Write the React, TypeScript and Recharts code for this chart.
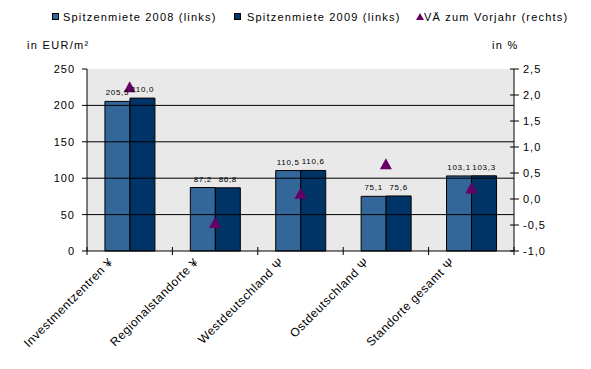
import React from 'react';
import {
  ComposedChart, Bar, Scatter, XAxis, YAxis, CartesianGrid, ReferenceLine, LabelList,
} from 'recharts';

const categories = [
  'Investmentzentren ¥',
  'Regionalstandorte ¥',
  'Westdeutschland Ψ',
  'Ostdeutschland Ψ',
  'Standorte gesamt Ψ',
];
const miete2008 = [205.5, 87.2, 110.5, 75.1, 103.1];
const miete2009 = [210.0, 86.8, 110.6, 75.6, 103.3];
const veraenderung = [2.15, -0.46, 0.1, 0.67, 0.2];
const leftTicks = [0, 50, 100, 150, 200, 250];
const rightTicks = [-1, -0.5, 0, 0.5, 1, 1.5, 2, 2.5];
const gridValues = [50, 100, 150, 200];
const seriesNames = ['Spitzenmiete 2008 (links)', 'Spitzenmiete 2009 (links)', 'VÄ zum Vorjahr (rechts)'];
const leftUnit = 'in EUR/m²';
const rightUnit = 'in %';

const data = categories.map((name, i) => ({
  name,
  m2008: miete2008[i],
  m2009: miete2009[i],
  va: veraenderung[i],
}));

const W = 591;
const H = 369;
const LEFT_W = 87;
const RIGHT_W = 77;
const TOP = 69;
const XAXIS_H = 118;
const PLOT_W = W - LEFT_W - RIGHT_W;
const FONT = '"Liberation Sans", Arial, sans-serif';
const C2008 = '#336699';
const C2009 = '#003366';
const CTRI = '#660066';

const fmt1 = (v: number) => v.toFixed(1).replace('.', ',');

const XTick = (props: any) => {
  const { x, y, payload, index } = props;
  const band = PLOT_W / categories.length;
  const ax = x - 16;
  const ay = y + 12;
  return (
    <g>
      <line x1={x - band / 2} x2={x - band / 2} y1={y - 4} y2={y + 4} stroke="#000" />
      {index === categories.length - 1 && (
        <line x1={x + band / 2} x2={x + band / 2} y1={y - 4} y2={y + 4} stroke="#000" />
      )}
      <text
        x={ax}
        y={ay}
        transform={`rotate(-45, ${ax}, ${ay})`}
        textAnchor="end"
        fontSize={12}
        letterSpacing={0.6}
        fontFamily={FONT}
        fill="#000"
      >
        {payload.value}
      </text>
    </g>
  );
};

const LeftTick = (props: any) => {
  const { x, y, payload } = props;
  return (
    <g>
      <line x1={x - 5} x2={x} y1={y} y2={y} stroke="#000" />
      <text x={x - 12} y={y + 4} textAnchor="end" fontSize={11} letterSpacing={1} fontFamily={FONT} fill="#000">
        {payload.value}
      </text>
    </g>
  );
};

const RightTick = (props: any) => {
  const { x, y, payload } = props;
  return (
    <g>
      <line x1={x - 4} x2={x + 5} y1={y} y2={y} stroke="#000" />
      <text x={x + 9} y={y + 4} textAnchor="start" fontSize={11} letterSpacing={1} fontFamily={FONT} fill="#000">
        {fmt1(payload.value)}
      </text>
    </g>
  );
};

const Triangle = (props: any) => {
  const { cx, cy } = props;
  if (cx == null || cy == null) return null;
  return <polygon points={`${cx},${cy - 6} ${cx + 6},${cy + 5} ${cx - 6},${cy + 5}`} fill={CTRI} />;
};

const Header = () => (
  <svg width={W} height={60} style={{ position: 'absolute', left: 0, top: 0, pointerEvents: 'none' }}>
    <rect x={52.5} y={13.5} width={6} height={6} fill={C2008} stroke="#000" strokeWidth={1} />
    <text x={63} y={21} fontSize={11} letterSpacing={1.2} fontFamily={FONT} fill="#000">{seriesNames[0]}</text>
    <rect x={234.5} y={13.5} width={6} height={6} fill={C2009} stroke="#000" strokeWidth={1} />
    <text x={247} y={21} fontSize={11} letterSpacing={1.2} fontFamily={FONT} fill="#000">{seriesNames[1]}</text>
    <polygon points="420,13 424,20 416,20" fill={CTRI} />
    <text x={424} y={21} fontSize={11} letterSpacing={1.2} fontFamily={FONT} fill="#000">{seriesNames[2]}</text>
    <text x={27} y={49} fontSize={11} letterSpacing={1.3} fontFamily={FONT} fill="#000">{leftUnit}</text>
    <text x={492} y={49} fontSize={11} letterSpacing={1.3} fontFamily={FONT} fill="#000">{rightUnit}</text>
  </svg>
);

export default function App() {
  return (
    <div style={{ position: 'absolute', left: 0, top: 0, width: W, height: H, background: '#fff' }}>
      <ComposedChart
        width={W}
        height={H}
        data={data}
        margin={{ top: TOP, right: 0, bottom: 0, left: 0 }}
        barGap={0}
        barCategoryGap="21%"
      >
        <CartesianGrid horizontal={false} vertical={false} fill="#E9E9E9" fillOpacity={1} />
        <XAxis
          dataKey="name"
          height={XAXIS_H}
          interval={0}
          tickSize={0}
          tickMargin={0}
          tickLine={false}
          axisLine={{ stroke: '#000' }}
          tick={<XTick />}
        />
        <YAxis
          yAxisId="left"
          orientation="left"
          width={LEFT_W}
          domain={[0, 250]}
          ticks={leftTicks}
          interval={0}
          tickSize={0}
          tickMargin={0}
          tickLine={false}
          axisLine={{ stroke: '#000' }}
          tick={<LeftTick />}
        />
        <YAxis
          yAxisId="right"
          orientation="right"
          width={RIGHT_W}
          domain={[-1, 2.5]}
          ticks={rightTicks}
          interval={0}
          tickSize={0}
          tickMargin={0}
          tickLine={false}
          axisLine={{ stroke: '#000' }}
          tick={<RightTick />}
        />
        {gridValues.map((v) => (
          <ReferenceLine key={v} yAxisId="left" y={v} stroke="#000" strokeWidth={1} />
        ))}
        <Bar yAxisId="left" dataKey="m2008" name={seriesNames[0]} fill={C2008} stroke="#000" strokeWidth={1} isAnimationActive={false}>
          <LabelList dataKey="m2008" position="top" offset={6} formatter={(v: any) => fmt1(Number(v))} fontSize={8} letterSpacing={0.7} fontFamily={FONT} fill="#000" />
        </Bar>
        <Bar yAxisId="left" dataKey="m2009" name={seriesNames[1]} fill={C2009} stroke="#000" strokeWidth={1} isAnimationActive={false}>
          <LabelList dataKey="m2009" position="top" offset={6} formatter={(v: any) => fmt1(Number(v))} fontSize={8} letterSpacing={0.7} fontFamily={FONT} fill="#000" />
        </Bar>
        <Scatter yAxisId="right" dataKey="va" name={seriesNames[2]} shape={<Triangle />} isAnimationActive={false} />
      </ComposedChart>
      <Header />
    </div>
  );
}
